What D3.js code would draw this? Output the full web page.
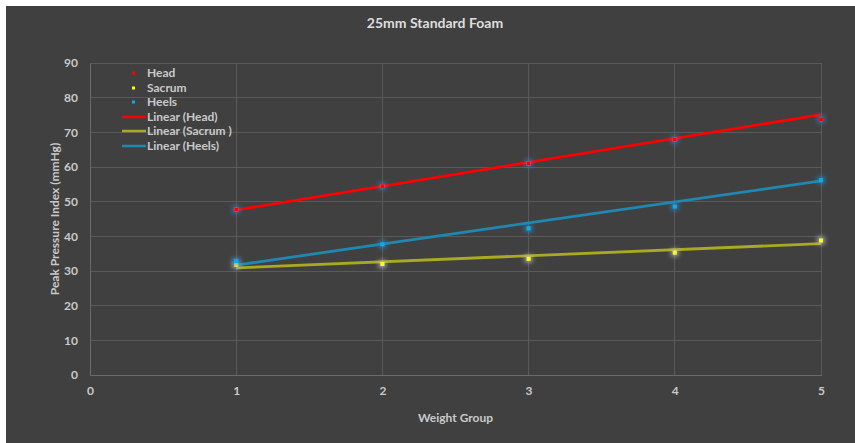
<!DOCTYPE html>
<html><head><meta charset="utf-8">
<script src="https://cdn.jsdelivr.net/npm/d3@7"></script>
<style>
html,body{margin:0;padding:0;background:#fff;}
svg{display:block;font-family:Lato,"Open Sans",sans-serif;}
</style></head>
<body>
<script>
// ---- data ----
const weightGroups = [1, 2, 3, 4, 5];
const headValues   = [47.7, 54.5, 61.1, 67.9, 73.8];
const sacrumValues = [31.8, 32.0, 33.5, 35.3, 38.8];
const heelsValues  = [32.9, 37.7, 42.3, 48.6, 56.2];
const seriesNames  = ["Head", "Sacrum", "Heels"];
const trendNames   = ["Linear (Head)", "Linear (Sacrum )", "Linear (Heels)"];
// trendline values at weight group 1 and 5
const trendStart   = [47.6, 30.9, 31.7];
const trendEnd     = [75.1, 37.9, 56.0];
const trendX       = [1, 5];
const yTicks       = [0, 10, 20, 30, 40, 50, 60, 70, 80, 90];
const xTicks       = [0, 1, 2, 3, 4, 5];
const chartTitle   = "25mm Standard Foam";
const xTitle       = "Weight Group";
const yTitle       = "Peak Pressure Index (mmHg)";

const W = 855, H = 443;
const markerColors = ["#ff0000", "#ffff00", "#00b0f0"];
const glowColors   = ["#3a78b8", "#bbbbbb", "#2a86c8"];
const trendColors  = ["#ff0000", "#aaaa22", "#1f88b0"];
const allValues = [headValues, sacrumValues, heelsValues];

const svg = d3.select("body").append("svg").attr("width", W).attr("height", H);
svg.append("rect").attr("x", 6).attr("y", 6).attr("width", W - 6).attr("height", H - 6).attr("fill", "#404040");

const defs = svg.append("defs");
glowColors.forEach((c, i) => {
  const f = defs.append("filter").attr("id", "glow" + i).attr("x", "-200%").attr("y", "-200%").attr("width", "500%").attr("height", "500%");
  f.append("feMorphology").attr("in", "SourceAlpha").attr("operator", "dilate").attr("radius", 1.5).attr("result", "d");
  f.append("feGaussianBlur").attr("in", "d").attr("stdDeviation", 2).attr("result", "b");
  f.append("feFlood").attr("flood-color", c).attr("flood-opacity", 0.7);
  f.append("feComposite").attr("in2", "b").attr("operator", "in").attr("result", "g");
  const mg = f.append("feMerge");
  mg.append("feMergeNode").attr("in", "g");
  mg.append("feMergeNode").attr("in", "SourceGraphic");
});

const m = {left: 90, right: 821, top: 63, bottom: 375};
const x = d3.scaleLinear().domain([0, 5]).range([m.left, m.right]);
const y = d3.scaleLinear().domain([0, 90]).range([m.bottom, m.top]);

const gridColor = "#5a5a5a";
const textColor = "#c9c9c9";
const FS = 12;

// gridlines
svg.append("g").selectAll("line").data(yTicks.filter(d => d > 0)).join("line")
  .attr("x1", m.left).attr("x2", m.right).attr("y1", d => y(d)).attr("y2", d => y(d))
  .attr("stroke", gridColor).attr("stroke-width", 1).attr("shape-rendering", "crispEdges");
svg.append("g").selectAll("line").data(xTicks.filter(d => d > 0)).join("line")
  .attr("x1", d => x(d)).attr("x2", d => x(d)).attr("y1", m.top).attr("y2", m.bottom)
  .attr("stroke", gridColor).attr("stroke-width", 1).attr("shape-rendering", "crispEdges");

// axes
const yAxis = svg.append("g").attr("transform", `translate(${m.left},0)`)
  .call(d3.axisLeft(y).tickValues(yTicks).tickFormat(d3.format("d")).tickSize(0).tickPadding(12));
const xAxis = svg.append("g").attr("transform", `translate(0,${m.bottom})`)
  .call(d3.axisBottom(x).tickValues(xTicks).tickFormat(d3.format("d")).tickSize(0).tickPadding(11));
[yAxis, xAxis].forEach(a => {
  a.select(".domain").attr("stroke", "#6a6a6a").attr("shape-rendering", "crispEdges");
  a.selectAll("text").attr("fill", textColor).attr("font-size", FS).attr("font-weight", "bold")
    .attr("font-family", "Lato, 'Open Sans', sans-serif");
});

// titles
svg.append("text").attr("x", 435).attr("y", 28).attr("text-anchor", "middle")
  .attr("fill", "#dedede").attr("font-size", 14).attr("font-weight", "bold").text(chartTitle);
svg.append("text").attr("x", (m.left + m.right) / 2).attr("y", 422).attr("text-anchor", "middle")
  .attr("fill", textColor).attr("font-size", FS).attr("font-weight", "bold").text(xTitle);
svg.append("text").attr("transform", `translate(59,${(m.top + m.bottom) / 2}) rotate(-90)`)
  .attr("text-anchor", "middle").attr("fill", textColor).attr("font-size", FS).attr("font-weight", "bold").text(yTitle);

// trend lines
const line = d3.line().x(d => x(d[0])).y(d => y(d[1]));
trendColors.forEach((c, i) => {
  svg.append("path").datum(trendX.map((tx, j) => [tx, j === 0 ? trendStart[i] : trendEnd[i]]))
    .attr("d", line).attr("fill", "none").attr("stroke", c).attr("stroke-width", 2.8);
});

// markers
allValues.forEach((vals, i) => {
  svg.append("g").attr("filter", `url(#glow${i})`).selectAll("rect")
    .data(vals.map((v, j) => [weightGroups[j], v])).join("rect")
    .attr("x", d => x(d[0]) - 2).attr("y", d => y(d[1]) - 2)
    .attr("width", 4).attr("height", 4).attr("fill", markerColors[i]);
});

// legend
const lg = svg.append("g");
const legY = [73, 88, 102, 117, 131, 146];
seriesNames.forEach((n, i) => {
  lg.append("rect").attr("x", 132).attr("y", legY[i] - 1.5).attr("width", 3).attr("height", 3).attr("fill", markerColors[i]);
  lg.append("text").attr("x", 147).attr("y", legY[i] + 4).attr("fill", textColor)
    .attr("font-size", FS).attr("font-weight", "bold").text(n);
});
trendNames.forEach((n, i) => {
  lg.append("line").attr("x1", 122).attr("x2", 146).attr("y1", legY[i + 3]).attr("y2", legY[i + 3])
    .attr("stroke", trendColors[i]).attr("stroke-width", 2.5);
  lg.append("text").attr("x", 147).attr("y", legY[i + 3] + 4).attr("fill", textColor)
    .attr("font-size", FS).attr("font-weight", "bold").text(n);
});
</script>
</body></html>
